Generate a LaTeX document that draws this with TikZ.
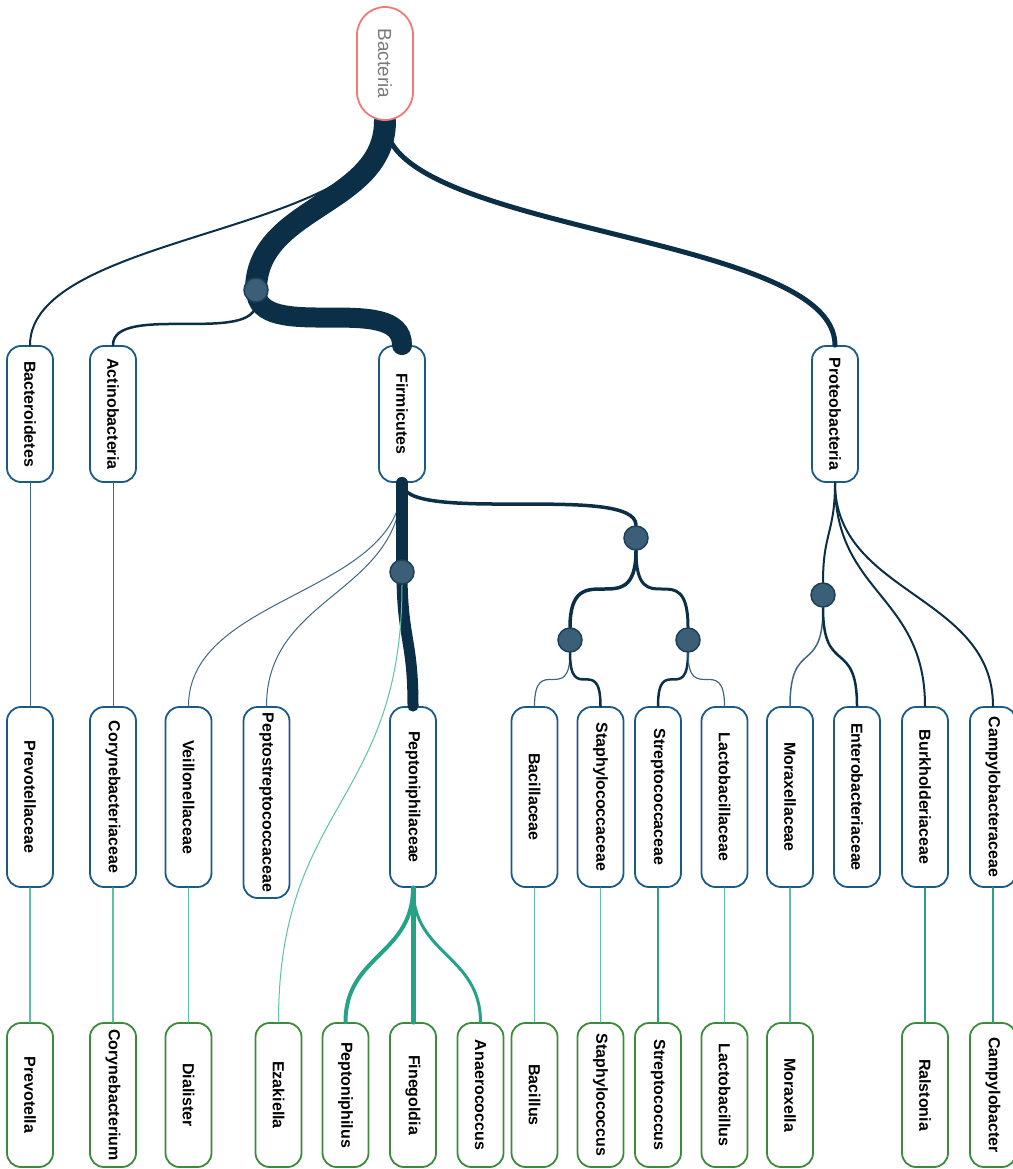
\documentclass[tikz,border=0pt]{standalone}
\usepackage{fontspec}
\setmainfont{Liberation Sans}
\usetikzlibrary{calc}
\pgfdeclarelayer{front}
\pgfsetlayers{main,front}
\definecolor{navy}{HTML}{0A2F47}
\definecolor{slate}{HTML}{3F6683}
\definecolor{boxblue}{HTML}{1C5A86}
\definecolor{gengreen}{HTML}{3B8B3B}
\definecolor{salmon}{HTML}{F07A78}
\definecolor{tealA}{HTML}{25A386}
\definecolor{ltealA}{HTML}{5CC2A7}
\definecolor{juncfill}{HTML}{3A5F77}
\definecolor{juncdraw}{HTML}{1E4057}
\newcommand\vtext[1]{\rotatebox{-90}{#1}}
\newcommand\lnk[4][]{\draw[line cap=round,#1] (#3) .. controls ($(#3)!#2!(#3 |- #4)$) and ($(#4)!#2!(#4 |- #3)$) .. (#4);}
\tikzset{
 bx/.style={draw=boxblue, line width=1.8pt, fill=white, rounded corners=14pt, minimum width=46pt, inner sep=0pt, font=\bfseries\fontsize{16}{18}\selectfont},
 phy/.style={bx, minimum height=136pt},
 fam/.style={bx, minimum height=180pt},
 gen/.style={bx, draw=gengreen, minimum height=144pt},
 junc/.style={circle, fill=juncfill, draw=juncdraw, line width=1.5pt, minimum size=24pt, inner sep=0pt},
 nv/.style={draw=navy, line width=#1},
 sl/.style={draw=slate, line width=#1},
 tl/.style={draw=tealA, line width=#1},
 lt/.style={draw=ltealA, line width=#1},
}
\begin{document}
\begin{tikzpicture}[x=1pt,y=-1pt]
\useasboundingbox (0,0) rectangle (1012,1169);
\begin{pgfonlayer}{front}
\node[draw=salmon, line width=1.8pt, fill=white, rounded corners=28pt, minimum width=56pt, minimum height=113pt, inner sep=0pt, text=black!52, font=\fontsize{19}{21}\selectfont] (bac) at (385,63.5) {\vtext{Bacteria}};
\node[junc] (j1) at (256,290) {};
\node[junc] (j2) at (402,572) {};
\node[junc] (j3) at (636,538) {};
\node[junc] (j4) at (570,640) {};
\node[junc] (j5) at (688,640) {};
\node[junc] (jp) at (823,595) {};
\end{pgfonlayer}
% phyla
\node[phy] (bacteroidetes) at (30,414) {\vtext{Bacteroidetes}};
\node[phy] (actino) at (113,414) {\vtext{Actinobacteria}};
\node[phy] (firm) at (402,414) {\vtext{Firmicutes}};
\node[phy] (proteo) at (835,414) {\vtext{Proteobacteria}};
% families
\node[fam] (prevf) at (30,797) {\vtext{Prevotellaceae}};
\node[fam] (corynef) at (113,797) {\vtext{Corynebacteriaceae}};
\node[fam] (veillf) at (188.5,797) {\vtext{Veillonellaceae}};
\node[fam, minimum height=191pt] (peptostf) at (266.5,802.5) {\vtext{Peptostreptococcaceae}};
\node[fam] (peptonf) at (413,797) {\vtext{Peptoniphilaceae}};
\node[fam] (bacilf) at (534.5,797) {\vtext{Bacillaceae}};
\node[fam] (staphf) at (600.5,797) {\vtext{Staphylococcaceae}};
\node[fam] (streptf) at (658,797) {\vtext{Streptococcaceae}};
\node[fam] (lactof) at (724.5,797) {\vtext{Lactobacillaceae}};
\node[fam] (moraxf) at (790,797) {\vtext{Moraxellaceae}};
\node[fam] (enterof) at (857,797) {\vtext{Enterobacteriaceae}};
\node[fam] (burkf) at (925,797) {\vtext{Burkholderiaceae}};
\node[fam] (campyf) at (993,797) {\vtext{Campylobacteraceae}};
% genera
\node[gen] (prevg) at (30,1095) {\vtext{Prevotella}};
\node[gen] (coryneg) at (113,1095) {\vtext{Corynebacterium}};
\node[gen] (dialg) at (188.5,1095) {\vtext{Dialister}};
\node[gen] (ezakg) at (278.5,1095) {\vtext{Ezakiella}};
\node[gen] (peptong) at (345.5,1095) {\vtext{Peptoniphilus}};
\node[gen] (fineg) at (413,1095) {\vtext{Finegoldia}};
\node[gen] (anaerog) at (480.5,1095) {\vtext{Anaerococcus}};
\node[gen] (bacilg) at (534.5,1095) {\vtext{Bacillus}};
\node[gen] (staphg) at (600.5,1095) {\vtext{Staphylococcus}};
\node[gen] (streptg) at (658,1095) {\vtext{Streptococcus}};
\node[gen] (lactog) at (724.5,1095) {\vtext{Lactobacillus}};
\node[gen] (moraxg) at (790,1095) {\vtext{Moraxella}};
\node[gen] (ralsg) at (925,1095) {\vtext{Ralstonia}};
\node[gen] (campyg) at (993,1095) {\vtext{Campylobacter}};
% edges: root
\lnk[nv=2pt]{0.5}{bac.south}{bacteroidetes.north}
\lnk[nv=5pt]{0.5}{bac.south}{proteo.north}
\lnk[nv=22pt]{0.5}{bac.south}{j1.center}
\lnk[nv=2.5pt]{1}{j1.south}{actino.north}
\lnk[nv=20pt]{1}{j1.center}{firm.north}
% phyla -> families
\lnk[sl=1pt]{0.5}{bacteroidetes.south}{prevf.north}
\lnk[sl=1pt]{0.5}{actino.south}{corynef.north}
\lnk[sl=1pt]{0.5}{firm.south}{veillf.north}
\lnk[sl=1pt]{0.5}{firm.south}{peptostf.north}
\lnk[nv=3.5pt]{1}{firm.south}{j3.north}
\lnk[nv=12pt]{0.5}{firm.south}{j2.center}
\lnk[nv=11pt]{0.5}{j2.center}{peptonf.north}
\lnk[nv=3.5pt]{1}{j3.south}{j4.north}
\lnk[nv=3pt]{1}{j3.south}{j5.north}
\lnk[sl=1.2pt]{1}{j4.south}{bacilf.north}
\lnk[nv=2.5pt]{1}{j4.south}{staphf.north}
\lnk[nv=2.5pt]{1}{j5.south}{streptf.north}
\lnk[sl=1.2pt]{1}{j5.south}{lactof.north}
\lnk[nv=2pt]{0.5}{proteo.south}{jp.north}
\lnk[sl=1.5pt]{0.7}{jp.south}{moraxf.north}
\lnk[nv=2.5pt]{0.7}{jp.south}{enterof.north}
\lnk[nv=2pt]{0.5}{proteo.south}{burkf.north}
\lnk[nv=2pt]{0.5}{proteo.south}{campyf.north}
% families -> genera
\lnk[lt=1pt]{0.5}{j2.south}{ezakg.north}
\lnk[lt=1.2pt]{0.5}{prevf.south}{prevg.north}
\lnk[lt=1.2pt]{0.5}{corynef.south}{coryneg.north}
\lnk[lt=1.2pt]{0.5}{veillf.south}{dialg.north}
\lnk[tl=4pt]{0.5}{peptonf.south}{peptong.north}
\lnk[tl=5pt]{0.5}{peptonf.south}{fineg.north}
\lnk[tl=3pt]{0.5}{peptonf.south}{anaerog.north}
\lnk[lt=1.2pt]{0.5}{bacilf.south}{bacilg.north}
\lnk[lt=1.2pt]{0.5}{staphf.south}{staphg.north}
\lnk[tl=2.5pt]{0.5}{streptf.south}{streptg.north}
\lnk[lt=1.2pt]{0.5}{lactof.south}{lactog.north}
\lnk[lt=1.2pt]{0.5}{moraxf.south}{moraxg.north}
\lnk[tl=1.5pt]{0.5}{burkf.south}{ralsg.north}
\lnk[tl=2.5pt]{0.5}{campyf.south}{campyg.north}
\end{tikzpicture}
\end{document}
